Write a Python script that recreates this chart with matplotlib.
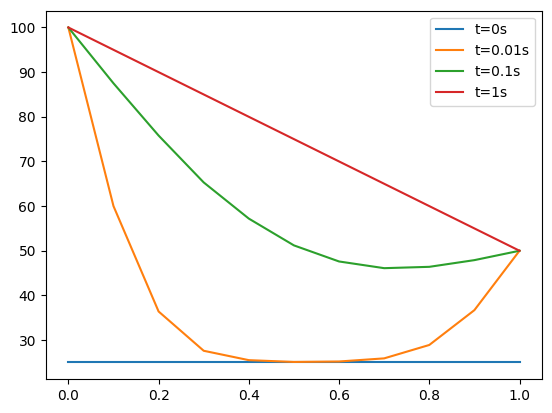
import matplotlib
matplotlib.use("Agg")
import matplotlib.pyplot as plt

x = [0.0, 0.1, 0.2, 0.3, 0.4, 0.5, 0.6, 0.7, 0.8, 0.9, 1.0]

u_t0 = [25, 25, 25, 25, 25, 25, 25, 25, 25, 25, 25]
u_t001 = [100, 60.0, 36.4, 27.6, 25.5, 25.1, 25.2, 25.9, 28.9, 36.7, 50]
u_t01 = [100, 87.5, 75.8, 65.3, 57.2, 51.2, 47.6, 46.1, 46.4, 47.9, 50]
u_t1 = [100, 95, 90, 85, 80, 75, 70, 65, 60, 55, 50]

labels = ["t=0s", "t=0.01s", "t=0.1s", "t=1s"]

fig = plt.figure(figsize=(5.52, 4.13), dpi=100)
ax = fig.add_axes([0.083, 0.082, 0.899, 0.892])

for u, lab in zip([u_t0, u_t001, u_t01, u_t1], labels):
    ax.plot(x, u, label=lab)

ax.legend(loc="upper right")

plt.savefig("out.png")
